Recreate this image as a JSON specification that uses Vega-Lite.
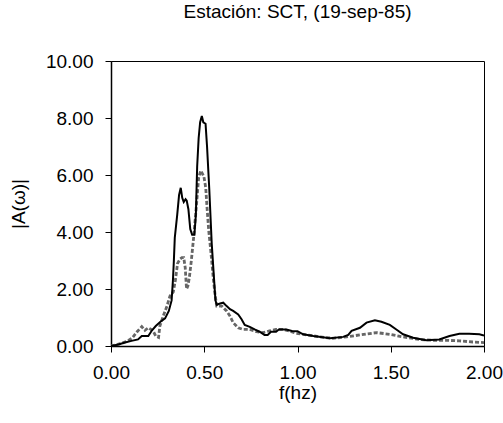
{
  "$schema": "https://vega.github.io/schema/vega-lite/v6.json",
  "width": 373,
  "height": 285,
  "autosize": "none",
  "padding": {"left": 111, "top": 61, "right": 19, "bottom": 77},
  "background": "white",
  "title": {"text": "Estación: SCT, (19-sep-85)", "font": "Liberation Sans", "fontSize": 19, "fontWeight": "normal", "color": "black", "offset": 30},
  "config": {
    "view": {"stroke": "black", "strokeWidth": 1},
    "axis": {
      "grid": false,
      "domainColor": "black",
      "domainWidth": 1.5,
      "tickColor": "black",
      "tickSize": 6,
      "tickWidth": 1,
      "labelFont": "Liberation Sans",
      "labelFontSize": 19,
      "labelColor": "black",
      "titleFont": "Liberation Sans",
      "titleFontSize": 19,
      "titleFontWeight": "normal",
      "titleColor": "black"
    }
  },
  "datasets": {
    "black": [
      {"f": 0.00, "a": 0.00}, {"f": 0.04, "a": 0.05}, {"f": 0.075, "a": 0.12}, {"f": 0.11, "a": 0.18},
      {"f": 0.145, "a": 0.23}, {"f": 0.165, "a": 0.35}, {"f": 0.20, "a": 0.35}, {"f": 0.22, "a": 0.55},
      {"f": 0.24, "a": 0.70}, {"f": 0.265, "a": 0.85}, {"f": 0.29, "a": 0.97}, {"f": 0.31, "a": 1.23},
      {"f": 0.325, "a": 1.60}, {"f": 0.332, "a": 2.30}, {"f": 0.337, "a": 2.98}, {"f": 0.342, "a": 3.80},
      {"f": 0.355, "a": 4.60}, {"f": 0.365, "a": 5.30}, {"f": 0.374, "a": 5.55}, {"f": 0.382, "a": 5.20},
      {"f": 0.39, "a": 5.05}, {"f": 0.40, "a": 5.15}, {"f": 0.406, "a": 5.10}, {"f": 0.415, "a": 4.80},
      {"f": 0.425, "a": 4.10}, {"f": 0.435, "a": 3.90}, {"f": 0.447, "a": 3.90}, {"f": 0.455, "a": 4.60},
      {"f": 0.462, "a": 6.30}, {"f": 0.47, "a": 7.30}, {"f": 0.478, "a": 7.85}, {"f": 0.487, "a": 8.07},
      {"f": 0.495, "a": 7.85}, {"f": 0.507, "a": 7.80}, {"f": 0.515, "a": 7.00}, {"f": 0.527, "a": 5.50},
      {"f": 0.540, "a": 3.60}, {"f": 0.552, "a": 2.40}, {"f": 0.560, "a": 1.60}, {"f": 0.567, "a": 1.45},
      {"f": 0.585, "a": 1.49}, {"f": 0.602, "a": 1.52}, {"f": 0.62, "a": 1.40}, {"f": 0.638, "a": 1.29},
      {"f": 0.655, "a": 1.23}, {"f": 0.682, "a": 1.11}, {"f": 0.70, "a": 0.94}, {"f": 0.717, "a": 0.74},
      {"f": 0.744, "a": 0.67}, {"f": 0.77, "a": 0.58}, {"f": 0.797, "a": 0.50}, {"f": 0.823, "a": 0.39},
      {"f": 0.84, "a": 0.39}, {"f": 0.858, "a": 0.50}, {"f": 0.885, "a": 0.50}, {"f": 0.90, "a": 0.58},
      {"f": 0.94, "a": 0.58}, {"f": 0.97, "a": 0.53}, {"f": 1.00, "a": 0.52}, {"f": 1.03, "a": 0.41},
      {"f": 1.085, "a": 0.35}, {"f": 1.174, "a": 0.27}, {"f": 1.245, "a": 0.32}, {"f": 1.272, "a": 0.39},
      {"f": 1.29, "a": 0.53}, {"f": 1.335, "a": 0.64}, {"f": 1.37, "a": 0.82}, {"f": 1.415, "a": 0.90},
      {"f": 1.45, "a": 0.85}, {"f": 1.495, "a": 0.74}, {"f": 1.53, "a": 0.58}, {"f": 1.566, "a": 0.41},
      {"f": 1.62, "a": 0.29}, {"f": 1.69, "a": 0.20}, {"f": 1.76, "a": 0.23}, {"f": 1.815, "a": 0.35},
      {"f": 1.868, "a": 0.43}, {"f": 1.92, "a": 0.43}, {"f": 1.975, "a": 0.41}, {"f": 2.00, "a": 0.37}
    ],
    "gray": [
      {"f": 0.00, "a": 0.00}, {"f": 0.05, "a": 0.08}, {"f": 0.09, "a": 0.18}, {"f": 0.115, "a": 0.29},
      {"f": 0.14, "a": 0.50}, {"f": 0.165, "a": 0.68}, {"f": 0.182, "a": 0.55}, {"f": 0.20, "a": 0.64},
      {"f": 0.215, "a": 0.58}, {"f": 0.228, "a": 0.50}, {"f": 0.24, "a": 0.35}, {"f": 0.255, "a": 0.30},
      {"f": 0.262, "a": 0.70}, {"f": 0.28, "a": 1.05}, {"f": 0.30, "a": 1.40}, {"f": 0.316, "a": 1.75},
      {"f": 0.334, "a": 1.90}, {"f": 0.345, "a": 2.30}, {"f": 0.357, "a": 2.90}, {"f": 0.37, "a": 3.05},
      {"f": 0.38, "a": 3.10}, {"f": 0.39, "a": 3.10}, {"f": 0.398, "a": 2.75}, {"f": 0.405, "a": 2.00},
      {"f": 0.412, "a": 2.10}, {"f": 0.42, "a": 2.40}, {"f": 0.43, "a": 2.95}, {"f": 0.443, "a": 3.80},
      {"f": 0.457, "a": 4.85}, {"f": 0.47, "a": 5.90}, {"f": 0.481, "a": 6.15}, {"f": 0.49, "a": 6.05},
      {"f": 0.498, "a": 5.95}, {"f": 0.508, "a": 5.55}, {"f": 0.515, "a": 4.85}, {"f": 0.524, "a": 4.05},
      {"f": 0.535, "a": 3.35}, {"f": 0.548, "a": 2.40}, {"f": 0.558, "a": 1.80}, {"f": 0.567, "a": 1.40},
      {"f": 0.594, "a": 1.40}, {"f": 0.62, "a": 1.23}, {"f": 0.638, "a": 1.05}, {"f": 0.655, "a": 0.82},
      {"f": 0.682, "a": 0.64}, {"f": 0.708, "a": 0.58}, {"f": 0.744, "a": 0.58}, {"f": 0.78, "a": 0.50},
      {"f": 0.815, "a": 0.47}, {"f": 0.85, "a": 0.53}, {"f": 0.885, "a": 0.58}, {"f": 0.92, "a": 0.58},
      {"f": 0.956, "a": 0.53}, {"f": 0.99, "a": 0.45}, {"f": 1.05, "a": 0.39}, {"f": 1.12, "a": 0.32},
      {"f": 1.19, "a": 0.27}, {"f": 1.263, "a": 0.32}, {"f": 1.335, "a": 0.39}, {"f": 1.424, "a": 0.47},
      {"f": 1.495, "a": 0.41}, {"f": 1.566, "a": 0.32}, {"f": 1.655, "a": 0.23}, {"f": 1.726, "a": 0.20},
      {"f": 1.797, "a": 0.20}, {"f": 1.868, "a": 0.18}, {"f": 1.94, "a": 0.14}, {"f": 2.00, "a": 0.12}
    ]
  },
  "encoding": {
    "x": {"field": "f", "type": "quantitative", "title": "f(hz)",
          "scale": {"domain": [0, 2], "nice": false, "zero": false},
          "axis": {"values": [0, 0.5, 1, 1.5, 2], "format": ".2f", "labelPadding": 11, "titlePadding": 1, "labelFlush": false}},
    "y": {"field": "a", "type": "quantitative", "title": "|A(ω)|",
          "scale": {"domain": [0, 10], "nice": false},
          "axis": {"values": [0, 2, 4, 6, 8, 10], "format": ".2f", "labelPadding": 12, "titlePadding": 17}}
  },
  "layer": [
    {"data": {"name": "gray"}, "mark": {"type": "line", "color": "#666666", "strokeWidth": 2.8, "strokeDash": [4, 2], "clip": true}},
    {"data": {"name": "black"}, "mark": {"type": "line", "color": "black", "strokeWidth": 2, "clip": true}}
  ]
}
